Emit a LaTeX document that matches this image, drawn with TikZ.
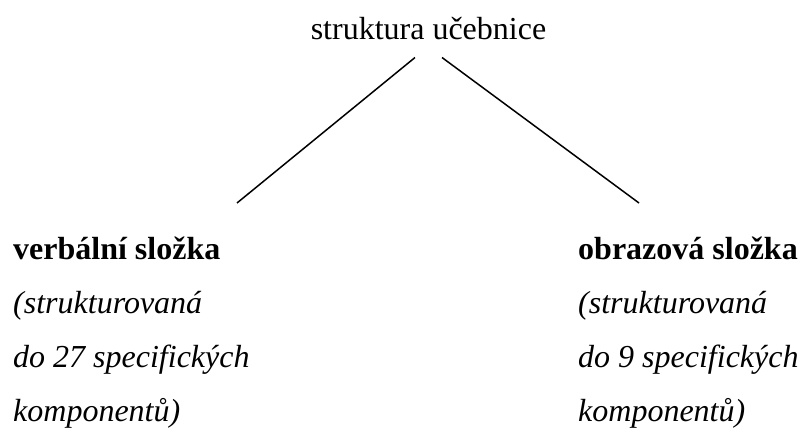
\documentclass[tikz,border=0pt]{standalone}
\usepackage{fontspec}
\setmainfont{Liberation Serif}
\usepackage{tikz}

\tikzset{txt/.style={inner sep=0pt, font=\fontsize{32}{36}\selectfont},
         head/.style={txt, font=\fontsize{32}{36}\selectfont\bfseries, anchor=base west},
         note/.style={txt, font=\fontsize{32}{36}\selectfont\itshape, anchor=base west}}

\begin{document}
\begin{tikzpicture}[x=1pt,y=-1pt]
               \useasboundingbox (0,0) rectangle (800,428);
               \node[txt, anchor=base] (root) at (428.5,40) {struktura učebnice};
               \node[head] (verb) at (13,259) {verbální složka};
               \node[note] (verb1) at (13,313) {(strukturovaná};
               \node[note] (verb2) at (13,367) {do 27 specifických};
               \node[note] (verb3) at (13,421) {komponentů)};
               \node[head] (obraz) at (578,259) {obrazová složka};
               \node[note] (obraz1) at (578,313) {(strukturovaná};
               \node[note] (obraz2) at (578,367) {do 9 specifických};
               \node[note] (obraz3) at (578,421) {komponentů)};
               \coordinate (verbtop) at (237,203);
               \coordinate (obraztop) at (639,203);
               \draw[line width=1.5pt] ([xshift=-13.5pt,yshift=-17pt]root.south) -- (verbtop);
               \draw[line width=1.5pt] ([xshift=13.5pt,yshift=-17pt]root.south) -- (obraztop);
           \end{tikzpicture}
\end{document}
